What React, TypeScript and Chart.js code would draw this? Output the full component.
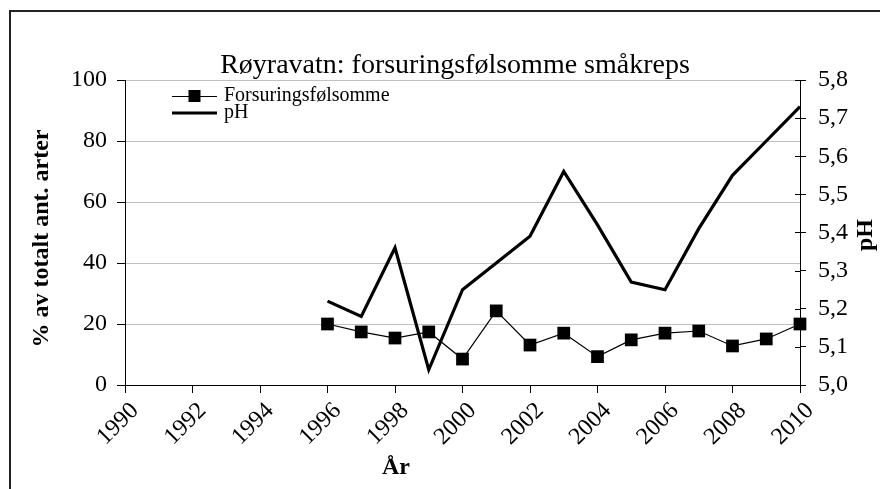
import React, { useEffect, useRef } from "react";
import { Chart, registerables } from "chart.js";

Chart.register(...registerables);

const years = [1996, 1997, 1998, 1999, 2000, 2001, 2002, 2003, 2004, 2005, 2006, 2007, 2008, 2009, 2010];
const sensitive = [20, 17.4, 15.4, 17.4, 8.5, 24.3, 13.1, 17, 9.3, 14.8, 17, 17.7, 12.8, 15.1, 20];
const phValues = [5.22, 5.18, 5.36, 5.04, 5.25, 5.32, 5.39, 5.56, 5.42, 5.27, 5.25, 5.41, 5.55, 5.64, 5.73];

const titleText = "Røyravatn: forsuringsfølsomme småkreps";
const leftTitle = "% av totalt ant. arter";
const rightTitle = "pH";
const xTitle = "År";
const seriesNames = ["Forsuringsfølsomme", "pH"];

const FONT = '"Liberation Serif", "Times New Roman", serif';

const decor = {
  id: "decor",
  afterDraw(chart: any) {
    const ctx = chart.ctx as CanvasRenderingContext2D;
    const { right, top, bottom } = chart.chartArea;
    ctx.save();
    // outer frame
    ctx.strokeStyle = "#222";
    ctx.lineWidth = 2;
    ctx.beginPath();
    ctx.moveTo(10, 489);
    ctx.lineTo(10, 11);
    ctx.lineTo(880, 11);
    ctx.stroke();

    // inner ticks on right axis
    const y1 = chart.scales.y1;
    ctx.strokeStyle = "#000";
    ctx.lineWidth = 1;
    y1.ticks.forEach((t: any) => {
      const py = Math.round(y1.getPixelForValue(t.value)) + 0.5;
      ctx.beginPath();
      ctx.moveTo(right - 5, py);
      ctx.lineTo(right, py);
      ctx.stroke();
    });

    ctx.fillStyle = "#000";
    // title
    ctx.font = `28px ${FONT}`;
    ctx.textAlign = "center";
    ctx.textBaseline = "alphabetic";
    ctx.fillText(titleText, 455, 73);

    // x title
    ctx.font = `bold 24px ${FONT}`;
    ctx.fillText(xTitle, 396, 474);

    // left title
    ctx.save();
    ctx.translate(42, (top + bottom) / 2 + 6);
    ctx.rotate(-Math.PI / 2);
    ctx.textBaseline = "middle";
    ctx.fillText(leftTitle, 0, 0);
    ctx.restore();

    // right title
    ctx.save();
    ctx.translate(866, 235);
    ctx.rotate(-Math.PI / 2);
    ctx.textBaseline = "middle";
    ctx.fillText(rightTitle, 0, 0);
    ctx.restore();

    // legend
    const lx0 = 172, lx1 = 217, tx = 224;
    const r1 = 96, r2 = 113;
    ctx.lineWidth = 1;
    ctx.beginPath();
    ctx.moveTo(lx0, r1 + 0.5);
    ctx.lineTo(lx1, r1 + 0.5);
    ctx.stroke();
    ctx.fillRect((lx0 + lx1) / 2 - 6, r1 - 6, 12, 12);
    ctx.lineWidth = 3;
    ctx.beginPath();
    ctx.moveTo(lx0, r2);
    ctx.lineTo(lx1, r2);
    ctx.stroke();
    ctx.font = `20px ${FONT}`;
    ctx.textAlign = "left";
    ctx.textBaseline = "middle";
    ctx.fillText(seriesNames[0], tx, r1);
    ctx.fillText(seriesNames[1], tx, r2);

    ctx.restore();
  },
};

export default function App() {
  const ref = useRef<HTMLCanvasElement | null>(null);

  useEffect(() => {
    document.body.style.margin = "0";
    const canvas = ref.current;
    if (!canvas) return;
    const chart = new Chart(canvas, {
      type: "line",
      data: {
        datasets: [
          {
            label: seriesNames[0],
            data: years.map((x, i) => ({ x, y: sensitive[i] })),
            yAxisID: "y",
            borderColor: "#000",
            backgroundColor: "#000",
            borderWidth: 1.2,
            pointStyle: "rect",
            pointRadius: 9,
            pointBackgroundColor: "#000",
            pointBorderColor: "#000",
            pointBorderWidth: 0,
            tension: 0,
            clip: false,
          },
          {
            label: seriesNames[1],
            data: years.map((x, i) => ({ x, y: phValues[i] })),
            yAxisID: "y1",
            borderColor: "#000",
            borderWidth: 3.2,
            pointRadius: 0,
            tension: 0,
            clip: false,
          },
        ],
      },
      options: {
        responsive: false,
        animation: false,
        layout: { padding: { top: 80, left: 0, right: 0, bottom: 0 } },
        plugins: {
          legend: { display: false },
          title: { display: false },
          tooltip: { enabled: false },
        },
        scales: {
          x: {
            type: "linear",
            min: 1990,
            max: 2010,
            afterFit: (s: any) => {
              s.height = 104;
            },
            ticks: {
              stepSize: 2,
              minRotation: 45,
              maxRotation: 45,
              color: "#000",
              padding: 4,
              labelOffset: 10,
              font: { family: FONT, size: 24 },
              callback: (v: any) => String(v),
            },
            grid: {
              drawOnChartArea: false,
              drawTicks: true,
              tickLength: 8,
              color: "#000",
            },
            border: { display: true, color: "#000", width: 1 },
          },
          y: {
            position: "left",
            min: 0,
            max: 100,
            afterFit: (s: any) => {
              s.width = 125;
            },
            ticks: {
              stepSize: 20,
              color: "#000",
              padding: 10,
              font: { family: FONT, size: 24 },
            },
            grid: {
              color: "#c0c0c0",
              tickColor: "#000",
              tickLength: 8,
            },
            border: { display: true, color: "#000", width: 1 },
          },
          y1: {
            position: "right",
            min: 5.0,
            max: 5.8,
            afterFit: (s: any) => {
              s.width = 80;
            },
            ticks: {
              stepSize: 0.1,
              color: "#000",
              padding: 12,
              font: { family: FONT, size: 24 },
              callback: (v: any) => Number(v).toFixed(1).replace(".", ","),
            },
            grid: {
              drawOnChartArea: false,
              color: "#000",
              tickLength: 6,
            },
            border: { display: true, color: "#000", width: 1 },
          },
        },
      },
      plugins: [decor],
    });
    return () => chart.destroy();
  }, []);

  return (
    <div style={{ position: "absolute", left: 0, top: 0, width: 880, height: 489, background: "#fff" }}>
      <canvas ref={ref} width={880} height={489} style={{ display: "block" }} />
    </div>
  );
}
